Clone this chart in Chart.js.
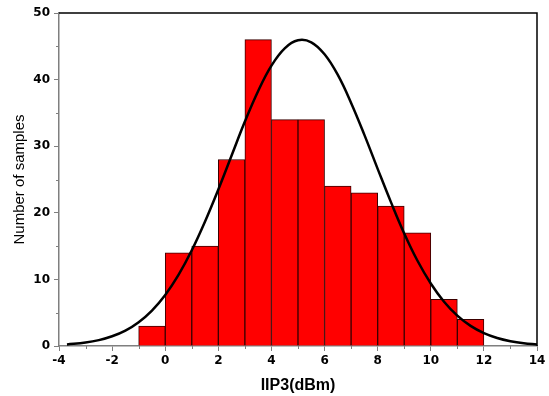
<!DOCTYPE html>
<html>
<head>
<meta charset="utf-8">
<script src="https://cdn.jsdelivr.net/npm/chart.js@4.4.1/dist/chart.umd.min.js"></script>
<style>
html,body{margin:0;padding:0;background:#fff;}
#wrap{width:549px;height:396px;position:relative;}
</style>
</head>
<body>
<div id="wrap"><canvas id="c" width="549" height="396"></canvas></div>
<script>
// Histogram bins (centers, width 1) and counts
const binCenters = [-0.5, 0.5, 1.5, 2.5, 3.5, 4.5, 5.5, 6.5, 7.5, 8.5, 9.5, 10.5, 11.5];
const counts     = [3, 14, 15, 28, 46, 34, 34, 24, 23, 21, 17, 7, 4];
// Fitted normal curve
const curveX = [-3.7, -3, -2.5, -2, -1.5, -1, -0.5, 0, 0.5, 1, 1.5, 2, 2.5, 3, 3.5, 4, 4.5, 5, 5.5, 6, 6.5, 7, 7.5, 8, 8.5, 9, 9.5, 10, 10.5, 11, 11.5, 12, 12.5, 13, 13.5, 14];
const curveY = [0.23, 0.52, 0.88, 1.46, 2.31, 3.57, 5.32, 7.66, 10.67, 14.37, 18.7, 23.5, 28.6, 33.7, 38.3, 42.1, 44.7, 45.9, 45.6, 43.8, 40.7, 36.5, 31.7, 26.6, 21.6, 16.9, 12.8, 9.39, 6.65, 4.56, 3.02, 1.93, 1.2, 0.72, 0.41, 0.23];
const xMinorTicks = [-3, -1, 1, 3, 5, 7, 9, 11, 13];
const yMinorTicks = [5, 15, 25, 35, 45];

const AXIS_GRAY = '#7f7f7f';

const framePlugin = {
  id: 'frame',
  afterDraw(chart) {
    const ctx = chart.ctx, a = chart.chartArea;
    const xs = chart.scales.x, ys = chart.scales.y;
    ctx.save();
    // minor ticks
    ctx.strokeStyle = AXIS_GRAY;
    ctx.lineWidth = 1;
    ctx.beginPath();
    xMinorTicks.forEach(v => {
      const px = Math.round(xs.getPixelForValue(v)) + 0.5;
      ctx.moveTo(px, a.bottom); ctx.lineTo(px, a.bottom + 3);
    });
    yMinorTicks.forEach(v => {
      const py = Math.round(ys.getPixelForValue(v)) + 0.5;
      ctx.moveTo(a.left - 3, py); ctx.lineTo(a.left, py);
    });
    ctx.stroke();
    // top and right black frame
    ctx.strokeStyle = '#000';
    ctx.lineWidth = 1.5;
    ctx.beginPath();
    ctx.moveTo(a.left, a.top);
    ctx.lineTo(a.right, a.top);
    ctx.lineTo(a.right, a.bottom);
    ctx.stroke();
    ctx.restore();
  }
};

new Chart(document.getElementById('c'), {
  data: {
    datasets: [
      {
        type: 'line',
        data: curveX.map((x, i) => ({x: x, y: curveY[i]})),
        borderColor: '#000',
        borderWidth: 2.5,
        pointRadius: 0,
        tension: 0.4,
        fill: false,
        order: 0
      },
      {
        type: 'bar',
        data: binCenters.map((x, i) => ({x: x, y: counts[i]})),
        backgroundColor: '#ff0000',
        borderColor: '#3a0000',
        borderWidth: 1,
        barPercentage: 1,
        categoryPercentage: 1,
        order: 1
      }
    ]
  },
  options: {
    responsive: false,
    animation: false,
    layout: {padding: {top: 13, right: 12, left: 0, bottom: 0}},
    plugins: {legend: {display: false}, tooltip: {enabled: false}},
    scales: {
      x: {
        type: 'linear',
        min: -4, max: 14,
        offset: false,
        afterFit(s) { s.height = 50; },
        grid: {offset: false, drawOnChartArea: false, drawTicks: true, tickLength: 5, tickColor: AXIS_GRAY, tickWidth: 1},
        border: {color: AXIS_GRAY, width: 1.5},
        ticks: {stepSize: 2, color: '#000', padding: 3, font: {family: 'DejaVu Sans', size: 12, weight: 'bold'}, maxRotation: 0},
        title: {display: true, text: 'IIP3(dBm)', color: '#000', font: {family: 'Liberation Sans', size: 16, weight: 'bold'}, padding: {top: 0, bottom: 1}}
      },
      y: {
        type: 'linear',
        min: 0, max: 50,
        afterFit(s) { s.width = 59; },
        grid: {drawOnChartArea: false, drawTicks: true, tickLength: 5, tickColor: AXIS_GRAY, tickWidth: 1},
        border: {color: AXIS_GRAY, width: 1.5},
        ticks: {stepSize: 10, color: '#000', padding: 4, font: {family: 'DejaVu Sans', size: 12, weight: 'bold'}},
        title: {display: true, text: 'Number of samples', color: '#000', font: {family: 'Liberation Sans', size: 15}, padding: {top: 11, bottom: 0}}
      }
    }
  },
  plugins: [framePlugin]
});
</script>
</body>
</html>
